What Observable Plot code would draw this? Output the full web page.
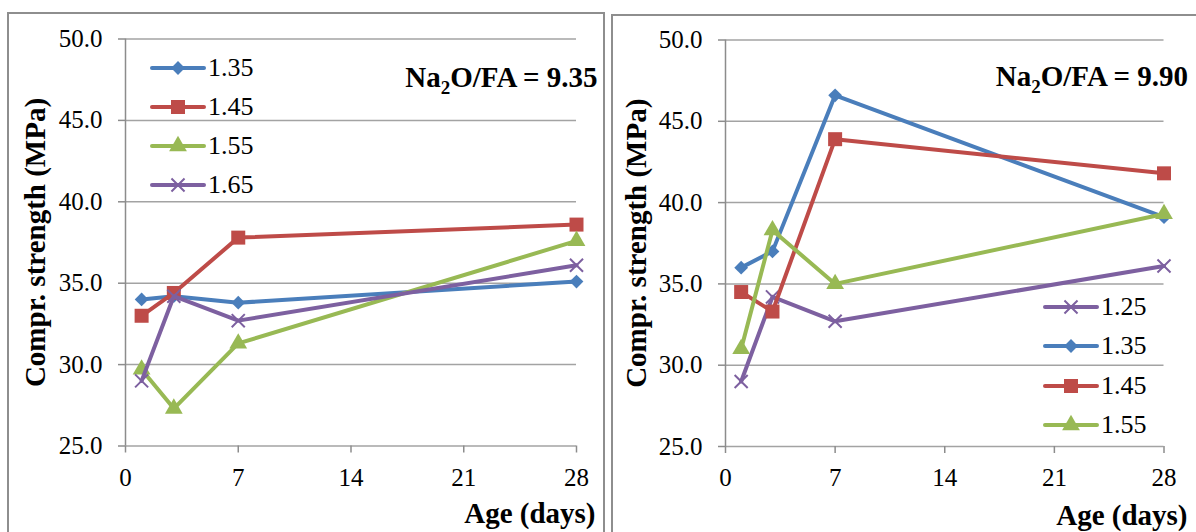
<!DOCTYPE html>
<html><head><meta charset="utf-8">
<script src="https://cdn.jsdelivr.net/npm/d3@7"></script>
<script src="https://cdn.jsdelivr.net/npm/@observablehq/plot@0.6"></script>
<style>
body{margin:0;background:#fff;font-family:'Times New Roman','Liberation Serif',serif;}
#wrap{position:relative;width:1196px;height:532px;overflow:hidden;font-family:'Times New Roman','Liberation Serif',serif;color:#000;}
.panel{position:absolute;border:2px solid #8e8e8e;box-sizing:border-box;height:700px;pointer-events:none;}
.chart{position:absolute;top:0;}
.row{position:absolute;display:flex;align-items:center;height:30px;font-size:26px;line-height:30px;}
.row svg{display:block;}
</style></head>
<body><div id="wrap"></div>
<script>
// ---- data ----
const days = [1, 3, 7, 28];
const ticksX = [0, 7, 14, 21, 28];
const ticksY = [25, 30, 35, 40, 45, 50];

// Panel A: Na2O/FA = 9.35
const titleA = "Na2O/FA = 9.35";
const seriesA = ["1.35", "1.45", "1.55", "1.65"];
const a135 = [34.0, 34.2, 33.8, 35.1];
const a145 = [33.0, 34.4, 37.8, 38.6];
const a155 = [29.7, 27.3, 31.3, 37.6];
const a165 = [29.0, 34.2, 32.7, 36.1];

// Panel B: Na2O/FA = 9.90
const titleB = "Na2O/FA = 9.90";
const seriesB = ["1.25", "1.35", "1.45", "1.55"];
const b125 = [29.0, 34.2, 32.7, 36.1];
const b135 = [36.0, 37.0, 46.6, 39.1];
const b145 = [34.5, 33.3, 43.9, 41.8];
const b155 = [31.0, 38.3, 35.0, 39.3];

const yLabel = "Compr. strength (MPa)";
const xLabel = "Age (days)";

// ---- styles ----
const styles = {
  "1.25": {color: "#7d60a0", symbol: "times", r: 6, d3sym: d3.symbolTimes},
  "1.35": {color: "#4a7ebb", symbol: "diamond2", r: 6.2, d3sym: d3.symbolDiamond2},
  "1.45": {color: "#be4b48", symbol: "square", r: 7.9, d3sym: d3.symbolSquare},
  "1.55": {color: "#98b954", symbol: "triangle", r: 6.6, d3sym: d3.symbolTriangle},
  "1.65": {color: "#7d60a0", symbol: "times", r: 6, d3sym: d3.symbolTimes}
};
const serifStack = "'Times New Roman', 'Liberation Serif', serif";
const wrap = document.getElementById("wrap");

function makePanel(cfg) {
  const rows = cfg.names.flatMap((n, i) => days.map((d, j) => ({s: n, day: d, v: cfg.values[i][j]})));
  const seriesMarks = cfg.names.flatMap(n => {
    const st = styles[n];
    const data = rows.filter(r => r.s === n);
    const dotOpts = st.symbol === "times"
      ? {x: "day", y: "v", symbol: "times", r: st.r, stroke: st.color, strokeWidth: 2, fill: "none"}
      : {x: "day", y: "v", symbol: st.symbol, r: st.r, fill: st.color, stroke: "none"};
    return [
      Plot.line(data, {x: "day", y: "v", stroke: st.color, strokeWidth: 4, strokeLinecap: "round", strokeLinejoin: "round"}),
      Plot.dot(data, dotOpts)
    ];
  });
  const svg = Plot.plot({
    width: cfg.width, height: 532,
    marginLeft: cfg.mL, marginRight: cfg.mR, marginTop: cfg.mT, marginBottom: cfg.mB,
    style: {fontFamily: serifStack, fontSize: "25px", background: "transparent", overflow: "visible", color: "#000"},
    x: {domain: [0, 28], axis: null},
    y: {domain: [25, 50], axis: null},
    marks: [
      Plot.gridY(ticksY, {stroke: "#a3a3a3", strokeOpacity: 1, strokeWidth: 1.5}),
      Plot.ruleX([0], {stroke: "#8c8c8c", strokeWidth: 1.5}),
      Plot.axisY(ticksY, {tickSize: 7, tickPadding: 16, tickFormat: d => d.toFixed(1), fontSize: 25, fontFamily: serifStack, stroke: "#8c8c8c", strokeWidth: 1.5, fill: "#000", label: null}),
      Plot.axisX(ticksX, {tickSize: 7, tickPadding: 15, tickFormat: d => String(d), fontSize: 25, fontFamily: serifStack, stroke: "#8c8c8c", strokeWidth: 1.5, fill: "#000", label: null}),
      ...seriesMarks,
      Plot.text([yLabel], {text: d => d, frameAnchor: "left", dx: cfg.yLabelDx, rotate: -90, fontSize: 29, fontFamily: serifStack, fontWeight: "bold", fill: "#000", lineAnchor: "middle", textAnchor: "middle"}),
      Plot.text([xLabel], {text: d => d, frameAnchor: "bottom-right", textAnchor: "end", lineAnchor: "middle", dx: cfg.xLabelDx, dy: cfg.xLabelDy, fontSize: 29, fontFamily: serifStack, fontWeight: "bold", fill: "#000"}),
      Plot.text([cfg.title], {text: d => d, frameAnchor: "top-right", textAnchor: "end", lineAnchor: "middle", dx: cfg.titleDx, dy: cfg.titleDy, fontSize: 29, fontFamily: serifStack, fontWeight: "bold", fill: "#000"})
    ]
  });
  // subscript for Na2O
  svg.querySelectorAll("text").forEach(t => {
    if (t.textContent.startsWith("Na2O")) {
      const rest = t.textContent.slice(3);
      t.textContent = "Na";
      const sub = document.createElementNS("http://www.w3.org/2000/svg", "tspan");
      sub.setAttribute("dy", "7"); sub.setAttribute("font-size", "19"); sub.textContent = "2";
      const tail = document.createElementNS("http://www.w3.org/2000/svg", "tspan");
      tail.setAttribute("dy", "-7"); tail.textContent = rest;
      t.appendChild(sub); t.appendChild(tail);
    }
  });
  svg.setAttribute("font-family", serifStack);
  svg.classList.add("chart");
  svg.style.left = cfg.left + "px";
  wrap.appendChild(svg);

  // legend
  cfg.names.forEach((n, i) => {
    const st = styles[n];
    const row = document.createElement("div");
    row.className = "row";
    row.style.left = cfg.legLeft + "px";
    row.style.top = (cfg.legTop + i * cfg.legStep - 15) + "px";
    row.style.fontFamily = serifStack;
    const size = Math.PI * st.r * st.r;
    const path = d3.symbol(st.d3sym, size)();
    const mk = st.symbol === "times"
      ? `<path d="${path}" transform="translate(28,15)" fill="none" stroke="${st.color}" stroke-width="2"/>`
      : `<path d="${path}" transform="translate(28,15)" fill="${st.color}"/>`;
    row.innerHTML = `<svg width="58" height="30"><line x1="2" x2="54" y1="15" y2="15" stroke="${st.color}" stroke-width="4" stroke-linecap="round"/>${mk}</svg><span style="font-family:${serifStack}">${n}</span>`;
    wrap.appendChild(row);
  });
  return svg;
}

makePanel({
  names: seriesA, values: [a135, a145, a155, a165], title: titleA,
  left: 0, width: 606, mL: 125, mR: 30, mT: 38.5, mB: 86.5,
  yLabelDx: -90, xLabelDx: 19, xLabelDy: 67.5, titleDx: 21, titleDy: 39,
  legLeft: 150, legTop: 67.5, legStep: 39.3
});
makePanel({
  names: seriesB, values: [b125, b135, b145, b155], title: titleB,
  left: 606, width: 590, mL: 119, mR: 32.5, mT: 39.5, mB: 86,
  yLabelDx: -89, xLabelDx: 23.5, xLabelDy: 69, titleDx: 24, titleDy: 37,
  legLeft: 1043, legTop: 307, legStep: 39.3
});

// panel frames
[[7, 12, 598], [611, 14, 700]].forEach(([l, t, w]) => {
  const d = document.createElement("div");
  d.className = "panel";
  d.style.left = l + "px"; d.style.top = t + "px"; d.style.width = w + "px";
  wrap.appendChild(d);
});
</script>
</body></html>
